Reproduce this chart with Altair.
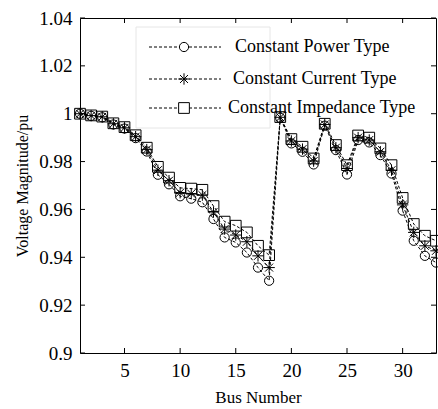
import altair as alt
import pandas as pd

buses = list(range(1, 34))

power = [1.0, 0.9991, 0.9985, 0.9955, 0.9938, 0.9898, 0.9842, 0.9745, 0.9705, 0.9655,
         0.9645, 0.9630, 0.9560, 0.9483, 0.9462, 0.9420, 0.9357, 0.9302, 0.9983, 0.9876,
         0.9841, 0.9788, 0.9950, 0.9848, 0.9746, 0.9890, 0.9880, 0.9827, 0.9750, 0.9595,
         0.9469, 0.9406, 0.9378]
current = [1.0, 0.9992, 0.9987, 0.9958, 0.9941, 0.9904, 0.9850, 0.9764, 0.9720, 0.9670,
           0.9666, 0.9660, 0.9589, 0.9518, 0.9493, 0.9465, 0.9406, 0.9357, 0.9985, 0.9886,
           0.9852, 0.9802, 0.9955, 0.9858, 0.9771, 0.9900, 0.9890, 0.9841, 0.9764, 0.9619,
           0.9504, 0.9448, 0.9427]
impedance = [1.0, 0.9993, 0.9988, 0.9960, 0.9944, 0.9910, 0.9858, 0.9778, 0.9733, 0.9690,
             0.9687, 0.9682, 0.9614, 0.9549, 0.9532, 0.9504, 0.9448, 0.9409, 0.9986, 0.9894,
             0.9862, 0.9813, 0.9958, 0.9869, 0.9785, 0.9909, 0.9900, 0.9855, 0.9785, 0.9648,
             0.9539, 0.9490, 0.9469]

series_names = ["Constant Power Type", "Constant Current Type", "Constant Impedance Type"]

x_ticks = [5, 10, 15, 20, 25, 30]
y_ticks = [0.9, 0.92, 0.94, 0.96, 0.98, 1.0, 1.02, 1.04]

FONT = "Liberation Serif"
W, H = 356, 335
STAR = "M-1,0L1,0M0,-1L0,1M-0.7,-0.7L0.7,0.7M-0.7,0.7L0.7,-0.7"
shapes = ["circle", STAR, "square"]
sizes = [85, 130, 115]

xscale = alt.Scale(domain=[1, 33], nice=False, zero=False)
yscale = alt.Scale(domain=[0.9, 1.04], nice=False, zero=False)

X = alt.X("bus:Q", scale=xscale, title="Bus Number",
          axis=alt.Axis(values=x_ticks, ticks=False, domain=False, grid=False,
                        labelFont=FONT, labelFontSize=19, labelColor="black",
                        labelPadding=8, titleFont=FONT, titleFontSize=17,
                        titleFontWeight="normal", titleColor="black", titlePadding=9))
Y = alt.Y("v:Q", scale=yscale, title="Voltage Magnitude/pu",
          axis=alt.Axis(values=y_ticks, format="~g", ticks=False, domain=False, grid=False,
                        labelFont=FONT, labelFontSize=19, labelColor="black",
                        labelPadding=8, titleFont=FONT, titleFontSize=16,
                        titleFontWeight="normal", titleColor="black", titlePadding=8))

layers = []
for name, vals, shp, sz in zip(series_names, [power, current, impedance], shapes, sizes):
    df = pd.DataFrame({"bus": buses, "v": vals, "series": name})
    layers.append(alt.Chart(df).mark_line(color="black", strokeWidth=1, strokeDash=[3, 2])
                  .encode(x=X, y=Y))
    layers.append(alt.Chart(df).mark_point(shape=shp, size=sz, filled=False, color="black",
                                           strokeWidth=1, opacity=1)
                  .encode(x=X, y=Y))

# inward ticks on all four sides
xt = pd.DataFrame({"bus": x_ticks})
yt = pd.DataFrame({"v": y_ticks})
Xt = alt.X("bus:Q", scale=xscale, title="Bus Number")
Yt = alt.Y("v:Q", scale=yscale, title="Voltage Magnitude/pu")
layers.append(alt.Chart(xt).mark_rule(color="black", strokeWidth=1)
              .encode(x=Xt, y=alt.value(H), y2=alt.value(H - 5)))
layers.append(alt.Chart(xt).mark_rule(color="black", strokeWidth=1)
              .encode(x=Xt, y=alt.value(0), y2=alt.value(5)))
layers.append(alt.Chart(yt).mark_rule(color="black", strokeWidth=1)
              .encode(y=Yt, x=alt.value(0), x2=alt.value(5)))
layers.append(alt.Chart(yt).mark_rule(color="black", strokeWidth=1)
              .encode(y=Yt, x=alt.value(W), x2=alt.value(W - 5)))

# manual legend
layers.append(alt.Chart(pd.DataFrame({"k": [0]})).mark_rect(fill="white", stroke="#e6e6e6",
                                                              strokeWidth=1)
              .encode(x=alt.value(56), x2=alt.value(190), y=alt.value(9), y2=alt.value(110)))
row_y = [29, 61, 90]
text_x = [155, 153, 148]
for name, shp, sz, ry, tx in zip(series_names, shapes, sizes, row_y, text_x):
    one = pd.DataFrame({"label": [name]})
    layers.append(alt.Chart(one).mark_rule(color="black", strokeWidth=1, strokeDash=[3, 2])
                  .encode(x=alt.value(69), x2=alt.value(141), y=alt.value(ry)))
    layers.append(alt.Chart(one).mark_point(shape=shp, size=sz, filled=False, color="black",
                                            strokeWidth=1, opacity=1, fill="white")
                  .encode(x=alt.value(104), y=alt.value(ry)))
    layers.append(alt.Chart(one).mark_text(font=FONT, fontSize=18, color="black",
                                           align="left", baseline="middle")
                  .encode(x=alt.value(tx), y=alt.value(ry), text="label:N"))

chart = (alt.layer(*layers)
         .properties(width=W, height=H, background="white",
                     padding={"left": 80, "top": 18, "right": 2, "bottom": 56},
                     autosize=alt.AutoSizeParams(type="none"))
         .configure_view(stroke="black", strokeWidth=1))

chart.save("out.html", embed_options={"renderer": "svg", "actions": False})
